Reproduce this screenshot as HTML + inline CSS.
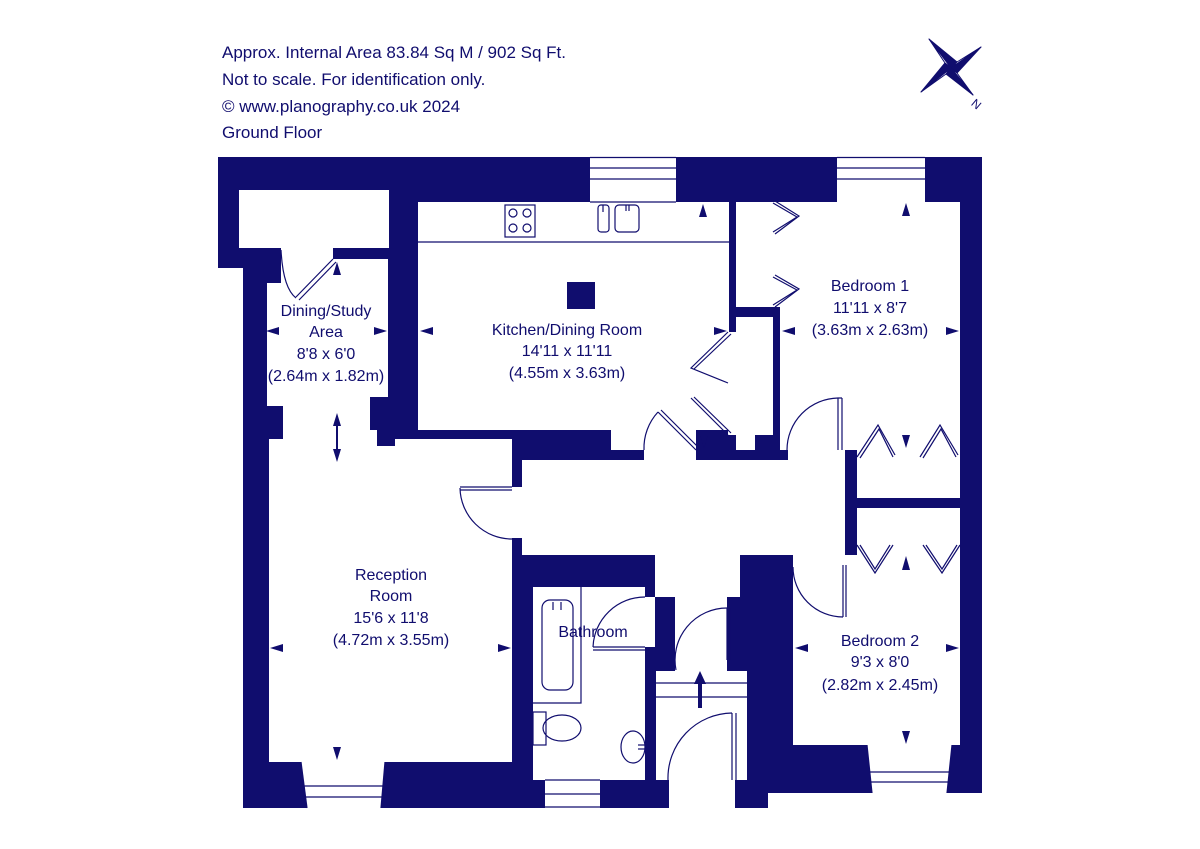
<!DOCTYPE html>
<html><head><meta charset="utf-8"><style>
html,body{margin:0;padding:0;background:#fff;}
svg{display:block;}
text{font-family:"Liberation Sans",sans-serif;fill:#100d6e;}
</style></head><body>
<svg width="1200" height="849" viewBox="0 0 1200 849" xmlns="http://www.w3.org/2000/svg">
<rect width="1200" height="849" fill="#fff"/>
<g font-size="17">
<text x="222" y="58">Approx. Internal Area 83.84 Sq M / 902 Sq Ft.</text>
<text x="222" y="85">Not to scale. For identification only.</text>
<text x="222" y="112">© www.planography.co.uk 2024</text>
<text x="222" y="138">Ground Floor</text>
</g>
<!-- compass -->
<g stroke="#100d6e" stroke-width="1" stroke-linejoin="round">
<polygon points="951,68 929,39 957,62" fill="#100d6e"/>
<polygon points="951,68 929,39 945,63" fill="#fff"/>
<polygon points="951,68 981,47 957,62" fill="#fff"/>
<polygon points="951,68 981,47 957,73" fill="#100d6e"/>
<polygon points="951,68 973,95 957,73" fill="#fff"/>
<polygon points="951,68 973,95 946,74" fill="#100d6e"/>
<polygon points="951,68 921,92 946,74" fill="#fff"/>
<polygon points="951,68 921,92 945,63" fill="#100d6e"/>
</g>
<text x="972" y="108" font-size="12" transform="rotate(40 976 104)">N</text>

<!-- building navy mass -->
<path d="M218,157 H982 V793 H768 V808 H243 V268 H218 Z" fill="#100d6e"/>

<g fill="#fff">
<rect x="239" y="190" width="150" height="58"/>
<rect x="281" y="248" width="52" height="12"/>
<rect x="281" y="259" width="107" height="25"/>
<rect x="267" y="283" width="121" height="114"/>
<rect x="267" y="397" width="103" height="9"/>
<rect x="283" y="405" width="87" height="35"/>
<rect x="269" y="439" width="243" height="323"/>
<rect x="283" y="430" width="94" height="10"/>
<rect x="395" y="439" width="117" height="8"/>
<rect x="510" y="487" width="14" height="51"/>
<rect x="522" y="460" width="323" height="95"/>
<rect x="644" y="440" width="52" height="20"/>
<rect x="788" y="398" width="57" height="62"/>
<rect x="418" y="202" width="311" height="228"/>
<rect x="611" y="430" width="85" height="20"/>
<rect x="728" y="332" width="9" height="103"/>
<rect x="736" y="317" width="37" height="118"/>
<rect x="736" y="435" width="19" height="15"/>
<rect x="755" y="317" width="18" height="108"/>
<rect x="736" y="202" width="224" height="105"/>
<rect x="780" y="307" width="180" height="143"/>
<rect x="857" y="450" width="103" height="48"/>
<rect x="857" y="508" width="103" height="57"/>
<rect x="793" y="555" width="167" height="190"/>
<rect x="533" y="587" width="112" height="193"/>
<rect x="645" y="597" width="10" height="50"/>
<rect x="655" y="555" width="85" height="42"/>
<rect x="662" y="555" width="78" height="22"/>
<rect x="675" y="555" width="52" height="116"/>
<rect x="656" y="671" width="91" height="109"/>
<rect x="669" y="778" width="66" height="31"/>
<rect x="590" y="157" width="86" height="45"/>
<rect x="837" y="157" width="88" height="45"/>
<polygon points="301,762 385,762 381,808 307,808"/>
<rect x="545" y="780" width="55" height="28"/>
<polygon points="867,745 952,745 947,793 872,793"/>
</g>
<g fill="#100d6e">
<rect x="567" y="282" width="28" height="27"/>
<rect x="655" y="660" width="20" height="11"/>
<rect x="729" y="435" width="7" height="15"/>
<rect x="370" y="397" width="18" height="33"/>
<rect x="377" y="430" width="18" height="16"/>
</g>

<g stroke="#100d6e" stroke-width="1.2" fill="none">
<line x1="590" y1="157.5" x2="676" y2="157.5"/><line x1="590" y1="168" x2="676" y2="168"/><line x1="590" y1="179" x2="676" y2="179"/><line x1="590" y1="202" x2="676" y2="202"/>
<line x1="837" y1="157.5" x2="925" y2="157.5"/><line x1="837" y1="168" x2="925" y2="168"/><line x1="837" y1="179" x2="925" y2="179"/>
<polyline points="301,762 307,808"/><polyline points="385,762 381,808"/><line x1="303" y1="786" x2="383" y2="786"/><line x1="305" y1="797" x2="382" y2="797"/>
<line x1="545" y1="780" x2="600" y2="780"/><line x1="545" y1="794" x2="600" y2="794"/><line x1="545" y1="807" x2="600" y2="807"/>
<polyline points="867,745 872,793"/><polyline points="952,745 947,793"/><line x1="869" y1="772" x2="950" y2="772"/><line x1="870" y1="782" x2="949" y2="782"/>
<line x1="418" y1="242" x2="729" y2="242"/>
<rect x="505" y="205" width="30" height="32"/>
<circle cx="513" cy="213" r="4"/><circle cx="527" cy="213" r="4"/><circle cx="513" cy="228" r="4"/><circle cx="527" cy="228" r="4"/>
<rect x="598" y="205" width="11" height="27" rx="3"/><rect x="615" y="205" width="24" height="27" rx="4"/>
<line x1="603" y1="205" x2="603" y2="212"/><line x1="626" y1="205" x2="626" y2="211"/><line x1="629" y1="205" x2="629" y2="211"/>
<path d="M281,250 Q283,288 296,298"/>
<path d="M333,259 L296,297 M336,262 L299,300"/>
<path d="M460,487 H512 M460,490 H512"/>
<path d="M460,488 A52,52 0 0 0 512,539"/>
<path d="M644,450 A53,53 0 0 1 658,412"/>
<path d="M658,412 L696,450 M661,410 L698,447"/>
<path d="M728,332 L691,368 L728,383 M691,398 L728,435"/>
<path d="M731,334 L694,369 M694,397 L731,433"/>
<path d="M838,398 V450 M842,398 V450 M838,398 H842"/>
<path d="M838,398 A52,52 0 0 0 787,450"/>
<path d="M843,565 V617 M846,565 V617"/>
<path d="M793,567 A50,50 0 0 0 843,617"/>
<path d="M593,647 H645 M593,650 H645"/>
<path d="M593,647 A52,52 0 0 1 645,597"/>
<path d="M727,608 V660 M730,608 V660"/>
<path d="M676,670 A52,52 0 0 1 727,608"/>
<path d="M732,713 V780 M736,713 V780"/>
<path d="M668,780 A65,65 0 0 1 732,713"/>
<line x1="656" y1="683" x2="747" y2="683"/><line x1="656" y1="697" x2="747" y2="697"/>
<polyline points="773,203 797,217 773,232"/><polyline points="775,201 799,216 775,234"/>
<polyline points="773,277 797,290 773,305"/><polyline points="775,275 799,289 775,307"/>
<polyline points="857,457 878,425 895,455"/><polyline points="860,458 879,429 893,457"/>
<polyline points="920,457 940,425 958,455"/><polyline points="923,458 941,429 956,457"/>
<polyline points="857,545 875,573 893,545"/><polyline points="860,545 875,569 890,545"/>
<polyline points="923,545 942,573 960,545"/><polyline points="926,545 942,569 957,545"/>
<rect x="542" y="600" width="31" height="90" rx="8"/>
<line x1="553" y1="602" x2="553" y2="610"/><line x1="561" y1="602" x2="561" y2="610"/>
<polyline points="533,703 581,703 581,587"/>
<rect x="533" y="712" width="13" height="33"/>
<ellipse cx="562" cy="728" rx="19" ry="13"/>
<ellipse cx="633" cy="747" rx="12" ry="16"/>
<line x1="638" y1="745" x2="645" y2="745"/><line x1="638" y1="749" x2="645" y2="749"/>
</g>
<g fill="#100d6e">
<polygon points="266,331 279,327 279,335"/><polygon points="387,331 374,327 374,335"/>
<polygon points="337,262 333,275 341,275"/>
<polygon points="337,413 333,426 341,426"/><polygon points="337,462 333,449 341,449"/><rect x="336" y="425" width="2" height="25"/>
<polygon points="420,331 433,327 433,335"/><polygon points="727,331 714,327 714,335"/>
<polygon points="703,204 699,217 707,217"/><polygon points="704,448 700,435 708,435"/>
<polygon points="782,331 795,327 795,335"/><polygon points="959,331 946,327 946,335"/>
<polygon points="906,203 902,216 910,216"/><polygon points="906,448 902,435 910,435"/>
<polygon points="270,648 283,644 283,652"/><polygon points="511,648 498,644 498,652"/>
<polygon points="337,760 333,747 341,747"/>
<polygon points="795,648 808,644 808,652"/><polygon points="959,648 946,644 946,652"/>
<polygon points="906,556 902,570 910,570"/><polygon points="906,744 902,731 910,731"/>
<polygon points="700,671 694,684 706,684"/><rect x="698" y="683" width="4" height="25"/>
</g>
<g font-size="16" text-anchor="middle">
<text x="326" y="316">Dining/Study</text><text x="326" y="337">Area</text><text x="326" y="359">8'8 x 6'0</text><text x="326" y="381">(2.64m x 1.82m)</text>
<text x="567" y="335">Kitchen/Dining Room</text><text x="567" y="356">14'11 x 11'11</text><text x="567" y="378">(4.55m x 3.63m)</text>
<text x="870" y="291">Bedroom 1</text><text x="870" y="313">11'11 x 8'7</text><text x="870" y="335">(3.63m x 2.63m)</text>
<text x="391" y="580">Reception</text><text x="391" y="601">Room</text><text x="391" y="623">15'6 x 11'8</text><text x="391" y="645">(4.72m x 3.55m)</text>
<text x="593" y="637">Bathroom</text>
<text x="880" y="646">Bedroom 2</text><text x="880" y="667">9'3 x 8'0</text><text x="880" y="690">(2.82m x 2.45m)</text>
</g>
</svg>
</body></html>
